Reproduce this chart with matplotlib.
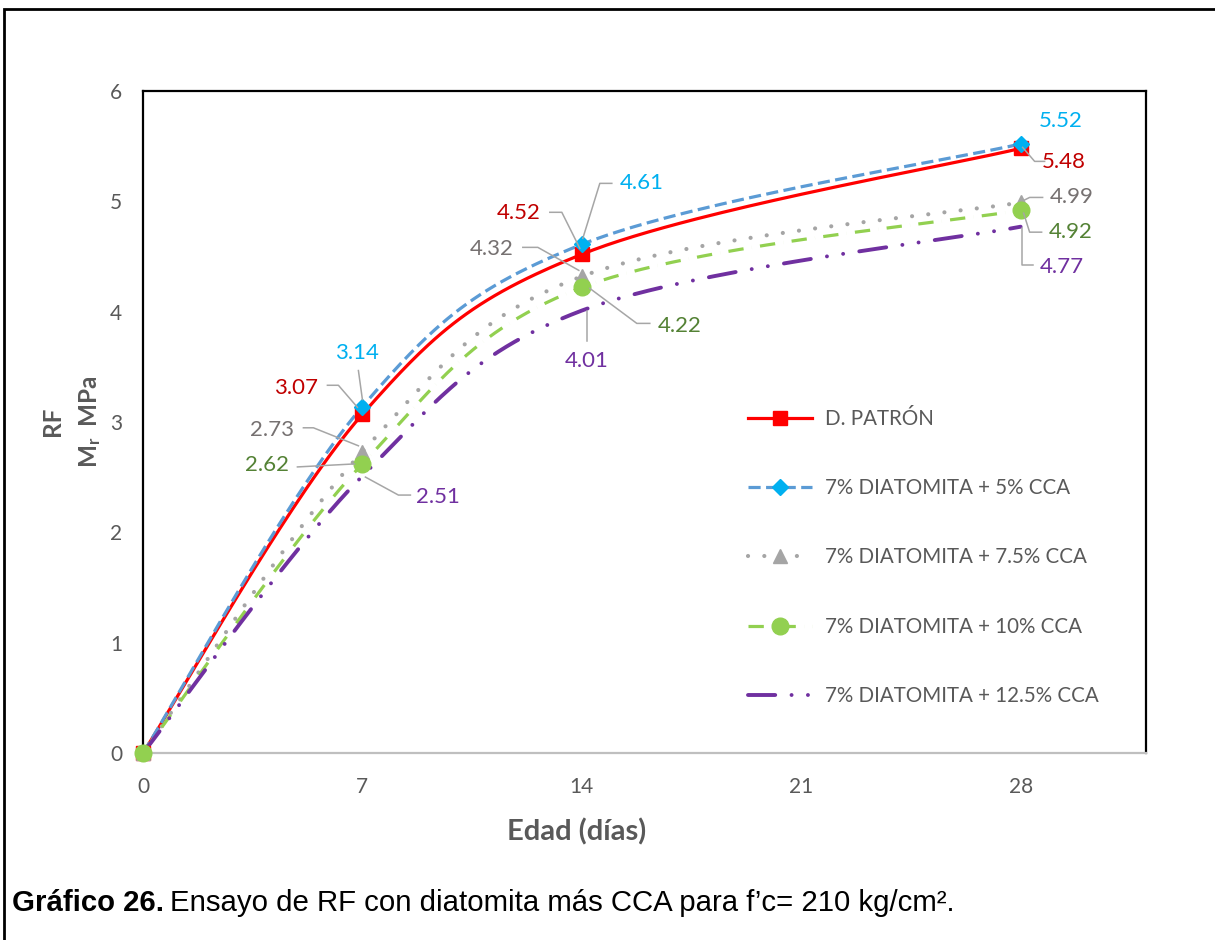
import numpy as np
import matplotlib
matplotlib.use("Agg")
import matplotlib.pyplot as plt
from matplotlib.lines import Line2D
from matplotlib.patches import Rectangle
from matplotlib.transforms import IdentityTransform

plt.rcParams['font.family'] = ['Lato', 'DejaVu Sans']
plt.rcParams['mathtext.fontset'] = 'custom'
plt.rcParams['mathtext.bf'] = 'Lato:bold'
plt.rcParams['mathtext.rm'] = 'Lato:bold'

# ---- data -------------------------------------------------------------
edad = [0, 7, 14, 28]
patron = [0, 3.07, 4.52, 5.48]
cca_5 = [0, 3.14, 4.61, 5.52]
cca_75 = [0, 2.73, 4.32, 4.99]
cca_10 = [0, 2.62, 4.22, 4.92]
cca_125 = [0, 2.51, 4.01, 4.77]
series_names = ["D. PATRÓN", "7% DIATOMITA + 5% CCA", "7% DIATOMITA + 7.5% CCA",
                "7% DIATOMITA + 10% CCA", "7% DIATOMITA + 12.5% CCA"]
x_ticks = [0, 7, 14, 21, 28]
y_ticks = [0, 1, 2, 3, 4, 5, 6]

GRAY_TXT = "#595959"
LEAD = "#A6A6A6"

fig = plt.figure(figsize=(12.15, 9.4), dpi=100)
ax = fig.add_axes([143 / 1215, 1 - 753 / 940, 1003 / 1215, 662 / 940])
ax.set_xlim(0, 32)
ax.set_ylim(0, 6)


def smooth(xs, ys, n=60):
    """Excel-like smoothed line: cubic bezier through points, done in pixel space."""
    P = ax.transData.transform(np.column_stack([xs, ys]))
    out = []
    for i in range(len(P) - 1):
        p0 = P[i - 1] if i > 0 else P[i]
        p3 = P[i + 2] if i + 2 < len(P) else P[i + 1]
        c1 = P[i] + (P[i + 1] - p0) / 6
        c2 = P[i + 1] - (p3 - P[i]) / 6
        t = np.linspace(0, 1, n)[:, None]
        seg = ((1 - t) ** 3 * P[i] + 3 * (1 - t) ** 2 * t * c1
               + 3 * (1 - t) * t ** 2 * c2 + t ** 3 * P[i + 1])
        out.append(seg if i == 0 else seg[1:])
    out = ax.transData.inverted().transform(np.vstack(out))
    return out[:, 0], out[:, 1]


styles = [
    dict(color="#FF0000", lw=2.3, ls="-", marker="s", mfc="#FF0000", mec="#FF0000", ms=10),
    dict(color="#5B9BD5", lw=2.3, ls=(0, (3.8, 1.7)), marker="D", mfc="#00B0F0", mec="#00B0F0", ms=8),
    dict(color="#A5A5A5", lw=3.0, ls=(0, (0.01, 3.9)), marker="^", mfc="#A5A5A5", mec="#A5A5A5", ms=10),
    dict(color="#92D050", lw=2.3, ls=(0, (4.8, 2.6, 0.01, 2.6)), marker="o", mfc="#92D050", mec="#92D050", ms=12),
    dict(color="#7030A0", lw=2.8, ls=(0, (7.0, 4.2, 0.01, 4.2, 0.01, 4.2)), marker=None, mfc="none", mec="none", ms=0),
]
all_series = [patron, cca_5, cca_75, cca_10, cca_125]

handles = []
for vals, st, name in zip(all_series, styles, series_names):
    sx, sy = smooth(edad, vals)
    cap = "round" if st["color"] in ("#A5A5A5", "#7030A0") else "butt"
    ax.plot(sx, sy, color=st["color"], lw=st["lw"], ls=st["ls"],
            dash_capstyle=cap, solid_capstyle="round", clip_on=False, zorder=3)
    if st["marker"]:
        ax.plot(edad, vals, ls="none", marker=st["marker"], mfc=st["mfc"], mec=st["mec"],
                ms=st["ms"], clip_on=False, zorder=4)
    handles.append(Line2D([0], [0], color=st["color"], lw=st["lw"], ls=st["ls"],
                          dash_capstyle=cap, marker=st["marker"], mfc=st["mfc"],
                          mec=st["mec"], ms=st["ms"], label=name))

# ---- data labels (pixel offsets from point, image y downward) ---------
label_colors = ["#C00000", "#00B0F0", "#767171", "#548235", "#7030A0"]
label_layout = {
    (0, 1): ((-66, -26), [(-35, -29), (-24, -29), (-5, -7)]),
    (0, 2): ((-63, -41), [(-32, -42), (-20, -42), (-2, -6)]),
    (0, 3): ((43, 14), [(2, -1), (14, 13), (24, 13)]),
    (1, 1): ((-5, -54), [(-4, -36), (0, -7)]),
    (1, 2): ((60, -61), [(30, -61), (18, -61), (1, -6)]),
    (1, 3): ((40, -23), None),
    (2, 1): ((-90, -22), [(-59, -24), (-49, -24), (-4, -6)]),
    (2, 2): ((-90, -27), [(-59, -29), (-44, -29), (-3, -6)]),
    (2, 3): ((51, -5), [(22, -5), (9, -5), (3, -2)]),
    (3, 1): ((-95, 1), [(-65, 3), (-8, 0)]),
    (3, 2): ((98, 39), [(8, 1), (55, 36), (68, 36)]),
    (3, 3): ((50, 22), [(3, 3), (9, 22), (21, 22)]),
    (4, 1): ((76, 21), [(3, 1), (36, 19), (48, 19)]),
    (4, 2): ((5, 50), [(5, 0), (5, 30)]),
    (4, 3): ((41, 40), [(1, 1), (1, 38), (12, 38)]),
}
for (si, pi), (toff, lead) in label_layout.items():
    x, y = edad[pi], all_series[si][pi]
    ax.annotate(f"{y:.2f}", xy=(x, y), xytext=(toff[0], -toff[1]),
                textcoords="offset pixels", ha="center", va="center",
                fontsize=16, color=label_colors[si], zorder=6)
    if lead:
        px, py = ax.transData.transform((x, y))
        lx = [px + d[0] for d in lead]
        ly = [py - d[1] for d in lead]
        ax.add_line(Line2D(lx, ly, color=LEAD, lw=1.1, transform=IdentityTransform(), zorder=5))

# ---- axes styling ----------------------------------------------------
ax.set_xticks(x_ticks)
ax.set_yticks(y_ticks)
ax.tick_params(length=0, labelsize=15, labelcolor=GRAY_TXT)
ax.tick_params(axis="x", pad=17)
ax.tick_params(axis="y", pad=15)
for s in ("left", "top", "right"):
    ax.spines[s].set_color("black")
    ax.spines[s].set_linewidth(1.6)
ax.spines["bottom"].set_color("#BFBFBF")
ax.spines["bottom"].set_linewidth(1.6)

leg = ax.legend(handles=handles, loc="upper left", bbox_to_anchor=(0.603, 0.52),
                frameon=False, fontsize=14.8, handlelength=3.1, handletextpad=0.65,
                labelspacing=2.4, borderpad=0, borderaxespad=0, numpoints=1)
for t in leg.get_texts():
    t.set_color(GRAY_TXT)

fig.text(577 / 1215, 1 - 832 / 940, "Edad (días)", ha="center", va="center",
         fontsize=21, fontweight="bold", color=GRAY_TXT)
fig.text(53 / 1215, 1 - 421 / 940, "RF", rotation=90, ha="center", va="center",
         fontsize=17.5, fontweight="bold", color=GRAY_TXT)
fig.text(90 / 1215, 1 - 422 / 940, r"$\mathbf{M_r}$  MPa", rotation=90, ha="center",
         va="center", fontsize=17.5, fontweight="bold", color=GRAY_TXT)

# caption
cap1 = fig.text(12 / 1215, 1 - 903 / 940, "Gráfico 26.", ha="left", va="center",
                fontsize=21.2, fontweight="bold", family="Liberation Sans", color="black")
fig.canvas.draw()
bb = cap1.get_window_extent()
fig.text((bb.x1 + 6) / 1215, 1 - 903 / 940,
         "Ensayo de RF con diatomita más CCA para f’c= 210 kg/cm²." ,
         ha="left", va="center", fontsize=21.2, family="Liberation Sans", color="black")

# outer frame
fig.add_artist(Rectangle((4 / 1215, -0.2), 1.5, 0.2 + 1 - 9 / 940, transform=fig.transFigure,
                         fill=False, ec="black", lw=2.0))

fig.savefig("out.png", dpi=100)
